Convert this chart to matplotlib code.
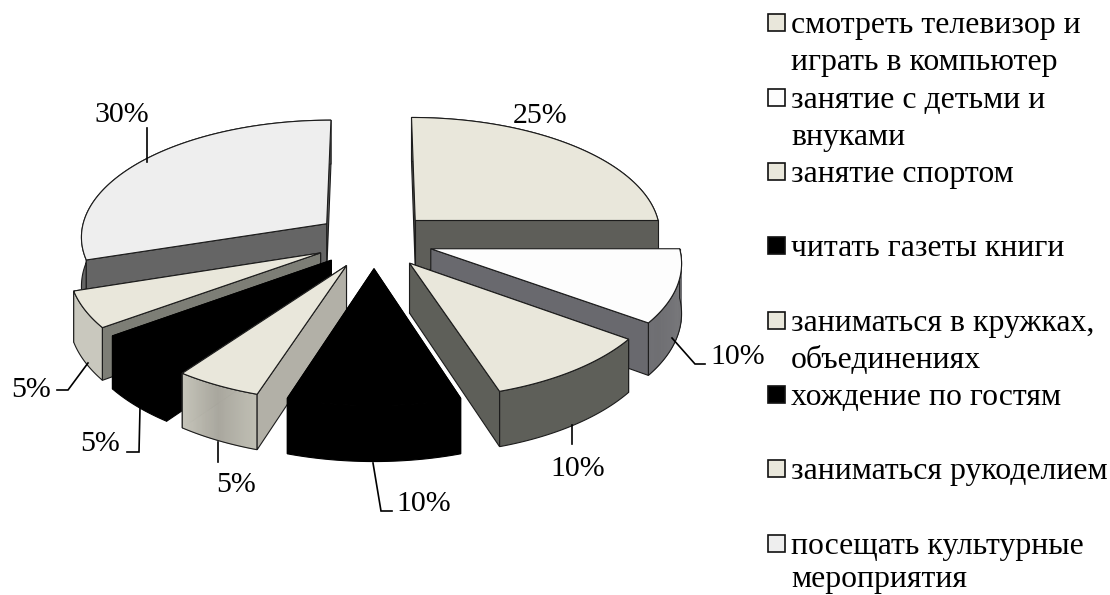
import numpy as np
import matplotlib
matplotlib.use("Agg")
import matplotlib.pyplot as plt
from matplotlib.patches import Polygon, Rectangle

plt.rcParams['font.family'] = ['Liberation Serif', 'DejaVu Serif']

# data, clockwise from 12 o'clock
values = [25, 10, 10, 10, 5, 5, 5, 30]
categories = ['смотреть телевизор и\nиграть в компьютер', 'занятие с детьми и\nвнуками', 'занятие спортом',
              'читать газеты книги', 'заниматься в кружках,\nобъединениях', 'хождение по гостям',
              'заниматься рукоделием', 'посещать культурные\nмероприятия']

top_colors = ['#e9e7db', '#fdfdfd', '#e9e7db', '#000000', '#e9e7db', '#000000', '#e9e7db', '#eeeeee']
side_colors = ['#5e5e59', '#69696e', '#5e5f59', '#000000', '#b2b0a7', '#000000', '#7d7e76', '#656565']
# wall shading goes from first to second to third colour along the arc
wall_colors = [('#5e5e59', '#5e5e59', '#5e5e59'), ('#6c6c70', '#77777a', '#6c6c70'), ('#5e5f59', '#5e5f59', '#5e5f59'),
               ('#000000', '#000000', '#000000'), ('#c0bfb4', '#a9a79e', '#c6c5ba'), ('#000000', '#000000', '#000000'),
               ('#c9c8be', '#c9c8be', '#c9c8be'), ('#656565', '#656565', '#656565')]

legend_y = [33, 108, 182, 256, 331, 405, 479, 554]
legend_faces = ['#e9e7db', '#fdfdfd', '#e9e7db', '#000000', '#e9e7db', '#000000', '#e9e7db', '#eeeeee']

# pie geometry, fitted by eye to the picture
CX, CY = 374, 240
A, B, P = 247, 117, 0.1
H = 49
EXPLODE = 0.24


def project(x, y, low=False):
    s = 1 / (1 + P * y)
    return CX + A * x * s, CY - B * y * s + (H * s if low else 0)


def pts(xs, ys, low=False):
    return np.column_stack(project(np.asarray(xs), np.asarray(ys), low))


def mix(c1, c2, t):
    a = np.array(matplotlib.colors.to_rgb(c1))
    b = np.array(matplotlib.colors.to_rgb(c2))
    return a + (b - a) * t


fig = plt.figure(figsize=(11.1, 5.95), dpi=100)
ax = fig.add_axes([0, 0, 1, 1])
ax.set_xlim(0, 1110)
ax.set_ylim(595, 0)
ax.axis('off')

edges = np.cumsum([0] + values) / sum(values) * 2 * np.pi
mids = (edges[:-1] + edges[1:]) / 2
# paint from the back of the pie to the front
order = sorted(range(len(values)), key=lambda k: -abs(mids[k] - np.pi))

for i in order:
    ax0, ay0 = EXPLODE * np.sin(mids[i]), EXPLODE * np.cos(mids[i])
    t = np.linspace(edges[i], edges[i + 1], 80)
    xs, ys = ax0 + np.sin(t), ay0 + np.cos(t)
    line = '#000000' if top_colors[i] == '#000000' else '#1c1c1c'

    def cut_face(j):
        face = np.vstack([pts([ax0, xs[j]], [ay0, ys[j]]), pts([xs[j], ax0], [ys[j], ay0], True)])
        ax.add_patch(Polygon(face, fc=side_colors[i], ec=line, lw=0.8))

    # the start face looks at the viewer when sin < 0, the end face when sin > 0
    start_front = np.sin(t[0]) < -1e-9
    end_front = np.sin(t[-1]) > 1e-9
    if not start_front:
        cut_face(0)
    if not end_front:
        cut_face(-1)

    # outer wall, cut in strips when it is shaded
    c0, c1, c2 = wall_colors[i]
    wall = np.vstack([pts(xs, ys), pts(xs[::-1], ys[::-1], True)])
    if c0 == c1 == c2:
        ax.add_patch(Polygon(wall, fc=c0, ec=line, lw=0.8))
    else:
        for k in range(len(t) - 1):
            f = k / (len(t) - 2)
            col = mix(c0, c1, f * 2) if f < 0.5 else mix(c1, c2, f * 2 - 1)
            strip = np.vstack([pts(xs[k:k + 2], ys[k:k + 2]), pts(xs[k:k + 2][::-1], ys[k:k + 2][::-1], True)])
            ax.add_patch(Polygon(strip, fc=col, ec=col, lw=0.5))
        ax.add_patch(Polygon(wall, fc='none', ec=line, lw=0.8))

    if start_front:
        cut_face(0)
    if end_front:
        cut_face(-1)

    # top
    top = np.vstack([pts([ax0], [ay0]), pts(xs, ys)])
    ax.add_patch(Polygon(top, fc=top_colors[i], ec=line, lw=0.8))

# leader lines
leaders = [([147, 147], [128, 162]),
           ([672, 695, 705], [338, 364, 364]),
           ([572, 572], [425, 444]),
           ([373, 381, 392], [463, 511, 511]),
           ([218, 218], [442, 462]),
           ([140, 139, 127], [408, 452, 452]),
           ([88, 68, 57], [363, 390, 390])]
for lx, ly in leaders:
    ax.plot(lx, ly, color='black', lw=1.2, solid_joinstyle='miter')

# order: same as values
label_pos = [(513, 123), (710, 364), (550, 476), (396, 511), (216, 492), (80, 451), (11, 397), (94, 122)]
for v, (lx, ly) in zip(values, label_pos):
    ax.text(lx, ly, f'{v}%', fontsize=21.5, ha='left', va='baseline', color='black')

for name, ly, fc in zip(categories, legend_y, legend_faces):
    ax.add_patch(Rectangle((767.5, ly - 19.5), 17, 17, fc=fc, ec='#111111', lw=1.2))
    for n, part in enumerate(name.split('\n')):
        # last line stays inside the figure, descenders would be cut otherwise
        ax.text(791, min(ly + n * 37, 587), part, fontsize=22.9, ha='left', va='baseline', color='black')

fig.savefig('out.png', dpi=100)
